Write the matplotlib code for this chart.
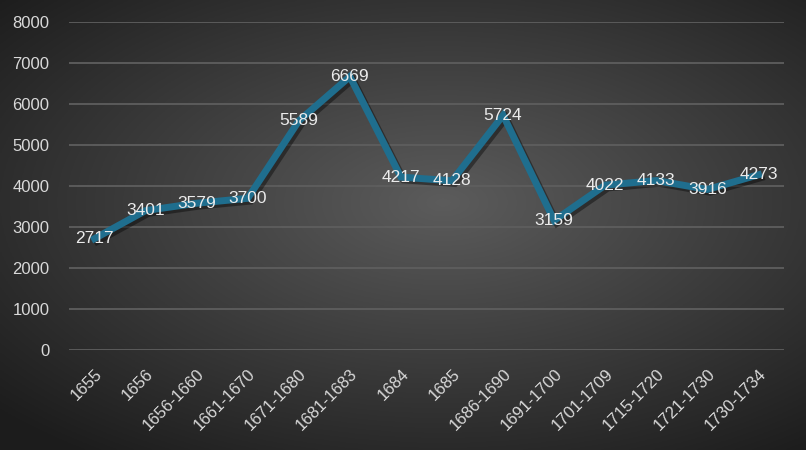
import numpy as np
import matplotlib
matplotlib.use('Agg')
import matplotlib.pyplot as plt
import matplotlib.patheffects as pe

plt.rcParams['font.family'] = ['Liberation Sans', 'DejaVu Sans']

periods = ['1655', '1656', '1656-1660', '1661-1670', '1671-1680', '1681-1683',
           '1684', '1685', '1686-1690', '1691-1700', '1701-1709', '1715-1720',
           '1721-1730', '1730-1734']
values = [2717, 3401, 3579, 3700, 5589, 6669, 4217, 4128, 5724, 3159,
          4022, 4133, 3916, 4273]
yticks = [0, 1000, 2000, 3000, 4000, 5000, 6000, 7000, 8000]

fig = plt.figure(figsize=(8.06, 4.5), dpi=100)

# 背景的径向渐变
bg = fig.add_axes([0, 0, 1, 1])
gx, gy = np.meshgrid(np.linspace(0, 1, 400), np.linspace(0, 1, 250))
r = np.sqrt(((gx - 0.55) / 0.75) ** 2 + ((gy - 0.45) / 0.7) ** 2)
shade = np.clip(0.36 - 0.25 * r, 0.11, 0.36)
bg.imshow(np.dstack([shade, shade, shade]), extent=[0, 1, 0, 1], aspect='auto')
bg.axis('off')

ax = fig.add_axes([69 / 806, 100 / 450, 715 / 806, 328 / 450])
ax.patch.set_alpha(0)
x = np.arange(len(periods))
ax.plot(x, values, color='#1f6e8e', lw=5, solid_joinstyle='miter', zorder=3,
        path_effects=[pe.SimpleLineShadow(offset=(2, -2), shadow_color='black', alpha=0.4),
                      pe.Normal()])
for xi, v in zip(x, values):
    ax.text(xi, v, str(v), ha='center', va='center', color='#ebebeb',
            fontsize=12.5, zorder=4)

ax.set_xlim(-0.5, len(periods) - 0.5)
ax.set_ylim(0, 8000)
ax.set_yticks(yticks)
ax.set_xticks(x)
ax.set_xticklabels(periods, rotation=45, ha='right', rotation_mode='anchor')
ax.tick_params(colors='#d9d9d9', labelsize=12, length=0)
ax.tick_params(axis='x', pad=12)
ax.tick_params(axis='y', pad=14)
ax.grid(axis='y', color='#5e5e5e', lw=1.3)
ax.set_axisbelow(True)
for s in ax.spines.values():
    s.set_visible(False)

fig.savefig('out.png', dpi=100)
